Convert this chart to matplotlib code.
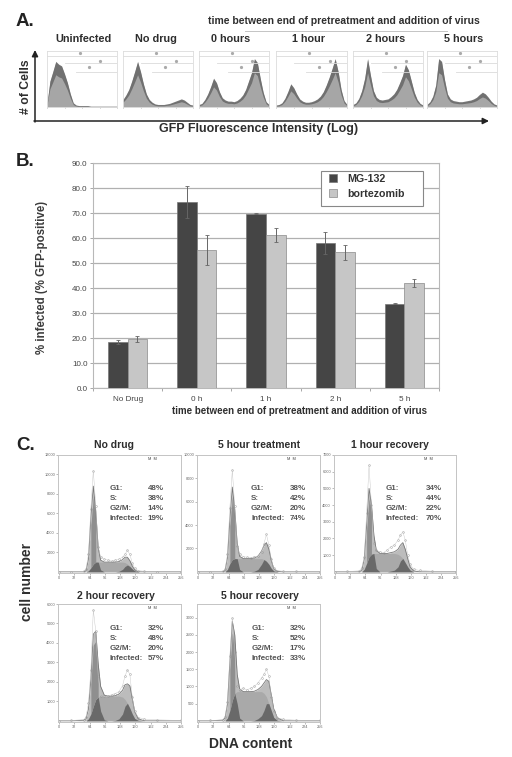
import numpy as np
import matplotlib
matplotlib.use('Agg')
import matplotlib.pyplot as plt
from matplotlib.patches import Rectangle

plt.rcParams['font.family'] = ['Liberation Sans', 'DejaVu Sans']

W, H = 512, 757

# Panel A: flow histograms, % of box height on a regular log grid
flow_names = ['Uninfected', 'No drug', '0 hours', '1 hour', '2 hours', '5 hours']
flow_uninf = [5, 45, 62, 80, 75, 72, 58, 42, 22, 6, 2, 1, 1, 1, 1, 0, 0, 0, 0, 0, 0, 0, 0, 0, 0]
flow_nodrug = [12, 20, 30, 45, 62, 80, 62, 40, 22, 12, 7, 4, 3, 3, 3, 4, 5, 7, 9, 11, 13, 11, 7, 3, 2]
flow_0h = [3, 5, 12, 22, 35, 50, 42, 26, 15, 11, 9, 9, 8, 10, 14, 20, 30, 45, 60, 85, 78, 50, 25, 8, 3]
flow_1h = [2, 3, 6, 14, 26, 40, 33, 22, 13, 9, 7, 7, 8, 10, 13, 18, 26, 38, 52, 68, 85, 62, 30, 10, 3]
flow_2h = [3, 6, 14, 28, 50, 85, 55, 28, 16, 12, 11, 12, 13, 17, 22, 30, 42, 55, 75, 65, 45, 25, 12, 5, 2]
flow_5h = [3, 8, 18, 38, 85, 80, 48, 22, 13, 10, 9, 8, 8, 9, 10, 11, 13, 16, 21, 25, 22, 16, 9, 4, 2]
flow_all = [flow_uninf, flow_nodrug, flow_0h, flow_1h, flow_2h, flow_5h]
flow_boxes = [(47, 117), (123, 193), (199, 269), (276, 347), (353, 423), (427, 497)]

# Panel B: bars
bar_labels = ['No Drug', '0 h', '1 h', '2 h', '5 h']
mg132 = [18.5, 74.5, 69.7, 58.0, 33.7]
mg132_err = [0.7, 6.5, 0.2, 4.5, 0.2]
bortezomib = [19.7, 55.3, 61.3, 54.3, 42.0]
bortezomib_err = [1.2, 6.0, 2.7, 3.0, 1.5]

# Panel C: cell cycle fits, x as fraction of the axis
dna_x = [0, .1, .2, .22, .24, .26, .28, .30, .32, .34, .37, .40, .43, .46, .49, .52, .54, .56, .58, .60, .62, .65, .7, .8, 1]

c1_g1 = [0, 0, 0, 100, 1200, 5200, 8000, 5200, 1500, 200, 0, 0, 0, 0, 0, 0, 0, 0, 0, 0, 0, 0, 0, 0, 0]
c1_s = [0, 0, 0, 0, 100, 400, 800, 1000, 1000, 1000, 1000, 1000, 1000, 1000, 1000, 1000, 950, 800, 600, 300, 100, 0, 0, 0, 0]
c1_g2 = [0, 0, 0, 0, 0, 0, 0, 0, 0, 0, 0, 0, 0, 0, 50, 250, 550, 700, 550, 300, 100, 0, 0, 0, 0]
c1_obs = [0, 20, 60, 300, 1800, 6500, 10400, 6800, 2600, 1500, 1300, 1200, 1100, 1200, 1300, 1500, 1800, 2200, 1800, 900, 350, 120, 60, 30, 10]

c2_g1 = [0, 0, 0, 100, 1000, 3800, 6200, 4200, 1300, 200, 0, 0, 0, 0, 0, 0, 0, 0, 0, 0, 0, 0, 0, 0, 0]
c2_s = [0, 0, 0, 0, 200, 700, 1050, 1130, 1130, 1130, 1130, 1130, 1130, 1130, 1130, 1130, 1050, 900, 650, 300, 80, 0, 0, 0, 0]
c2_g2 = [0, 0, 0, 0, 0, 0, 0, 0, 0, 0, 0, 0, 0, 50, 200, 650, 1200, 1600, 1300, 700, 200, 30, 0, 0, 0]
c2_obs = [0, 20, 60, 200, 1500, 5500, 8700, 5600, 2200, 1500, 1300, 1250, 1200, 1300, 1350, 1700, 2400, 3200, 2300, 1100, 300, 100, 50, 30, 10]

c3_g1 = [0, 0, 0, 100, 600, 2300, 4100, 3000, 1100, 200, 0, 0, 0, 0, 0, 0, 0, 0, 0, 0, 0, 0, 0, 0, 0]
c3_s = [0, 0, 0, 0, 150, 500, 900, 1050, 1100, 1100, 1100, 1100, 1100, 1100, 1100, 1050, 950, 800, 550, 300, 100, 0, 0, 0, 0]
c3_g2 = [0, 0, 0, 0, 0, 0, 0, 0, 0, 0, 0, 0, 0, 50, 100, 300, 650, 950, 800, 500, 200, 50, 0, 0, 0]
c3_obs = [0, 20, 60, 250, 900, 3500, 6400, 4000, 1700, 1300, 1200, 1150, 1300, 1500, 1600, 1900, 2200, 2400, 1900, 1000, 450, 150, 80, 40, 10]

c4_g1 = [0, 0, 30, 100, 500, 1800, 3700, 3500, 1700, 500, 50, 0, 0, 0, 0, 0, 0, 0, 0, 0, 0, 0, 0, 0, 0]
c4_s = [0, 0, 0, 0, 100, 350, 750, 1100, 1220, 1270, 1270, 1270, 1270, 1270, 1270, 1220, 1100, 900, 650, 350, 120, 20, 0, 0, 0]
c4_g2 = [0, 0, 0, 0, 0, 0, 0, 0, 0, 0, 0, 0, 0, 20, 100, 350, 750, 1000, 1150, 800, 350, 80, 0, 0, 0]
c4_obs = [0, 20, 60, 200, 900, 2600, 5700, 4600, 2300, 1300, 1250, 1250, 1350, 1400, 1500, 1800, 2300, 2600, 2400, 1200, 500, 170, 90, 50, 20]

c5_g1 = [0, 0, 20, 80, 400, 1400, 2300, 1700, 500, 80, 0, 0, 0, 0, 0, 0, 0, 0, 0, 0, 0, 0, 0, 0, 0]
c5_s = [0, 0, 0, 0, 80, 300, 600, 800, 850, 850, 850, 850, 850, 850, 850, 850, 800, 700, 500, 300, 100, 10, 0, 0, 0]
c5_g2 = [0, 0, 0, 0, 0, 0, 0, 0, 0, 0, 0, 0, 0, 10, 60, 150, 300, 500, 650, 450, 250, 80, 0, 0, 0]
c5_obs = [0, 10, 30, 120, 550, 1900, 3000, 2000, 1000, 900, 950, 900, 950, 1000, 1100, 1250, 1350, 1500, 1300, 700, 300, 90, 40, 20, 10]

cycle_titles = ['No drug', '5 hour treatment', '1 hour recovery', '2 hour recovery', '5 hour recovery']
cycle_g1 = [c1_g1, c2_g1, c3_g1, c4_g1, c5_g1]
cycle_s = [c1_s, c2_s, c3_s, c4_s, c5_s]
cycle_g2 = [c1_g2, c2_g2, c3_g2, c4_g2, c5_g2]
cycle_obs = [c1_obs, c2_obs, c3_obs, c4_obs, c5_obs]
cycle_ymax = [12000, 10000, 7000, 6000, 3400]
cycle_ticks = [[2000, 4000, 6000, 8000, 10000, 12000], [2000, 4000, 6000, 8000, 10000],
               [1000, 2000, 3000, 4000, 5000, 6000, 7000], [1000, 2000, 3000, 4000, 5000, 6000],
               [500, 1000, 1500, 2000, 2500, 3000]]
stat_names = ['G1:', 'S:', 'G2/M:', 'Infected:']
stat_values = [['48%', '38%', '14%', '19%'], ['38%', '42%', '20%', '74%'], ['34%', '44%', '22%', '70%'],
               ['32%', '48%', '20%', '57%'], ['32%', '52%', '17%', '33%']]
cycle_boxes = [(58, 455, 181, 573), (197, 455, 320, 573), (334, 455, 456, 573),
               (58, 604, 181, 722), (197, 604, 320, 722)]
stat_pos = [(110, 164, 489), (251, 306, 489), (386, 442, 489), (110, 164, 629), (252, 306, 629)]
title_pos = [(114, 445), (259, 445), (390, 445), (116, 596), (260, 596)]


def px_axes(x0, y0, x1, y1):
    return fig.add_axes([x0 / W, 1 - y1 / H, (x1 - x0) / W, (y1 - y0) / H])


fig = plt.figure(figsize=(W / 100, H / 100), dpi=100)

# overlay in pixel coordinates for labels and arrows
over = fig.add_axes([0, 0, 1, 1], zorder=5)
over.set_xlim(0, W)
over.set_ylim(H, 0)
over.axis('off')
over.patch.set_alpha(0)

TXT = '#2e2e2e'
for lab, y in [('A.', 22), ('B.', 161), ('C.', 446)]:
    over.text(16, y, lab, fontsize=13.5, fontweight='bold', color='#222222', va='center')

# Panel A
over.text(344, 21, 'time between end of pretreatment and addition of virus', fontsize=7.5,
          fontweight='bold', color=TXT, ha='center', va='center')
over.plot([245, 447], [30.5, 30.5], color='#c4c4c4', lw=0.7)
title_x = [84, 156, 231, 308, 386, 464]
for name, tx in zip(flow_names, title_x):
    over.text(tx, 39, name, fontsize=7.8, fontweight='bold', color=TXT, ha='center', va='center')
flow_x = np.linspace(0, 1, 25)
for vals, (x0, x1) in zip(flow_all, flow_boxes):
    ax = px_axes(x0, 51, x1, 107)
    vals = np.array(vals)
    ax.fill_between(flow_x, 0, vals, color='#a6a6a6', lw=0)
    ax.fill_between(flow_x, 0.72 * vals, vals + 1.5, color='#6a6a6a', lw=0, alpha=0.9)
    for yy, xs in [(91, 0), (78, .25), (63, .42)]:
        ax.plot([xs, 1], [yy, yy], color='#dadada', lw=0.6)
    ax.plot([.47, .76, .6], [97, 82, 71], ls='', marker='o', ms=1.3, color='#aaaaaa')
    ax.set_xlim(0, 1)
    ax.set_ylim(0, 100)
    ax.set_xticks([0, .25, .5, .75, 1])
    ax.set_xticklabels([])
    ax.set_yticks([])
    ax.tick_params(length=1, width=0.5, color='#999999')
    for s in ax.spines.values():
        s.set_color('#dcdcdc')
        s.set_linewidth(0.6)
over.annotate('', xy=(35, 50), xytext=(35, 122), arrowprops=dict(arrowstyle='-|>', color='#222222', lw=1.1, mutation_scale=9, shrinkA=0, shrinkB=0))
over.annotate('', xy=(489, 121), xytext=(34, 121), arrowprops=dict(arrowstyle='-|>', color='#222222', lw=1.1, mutation_scale=9, shrinkA=0, shrinkB=0))
over.text(26, 87, '# of Cells', fontsize=8.8, fontweight='bold', color=TXT, rotation=90, ha='center', va='center')
over.text(259, 129, 'GFP Fluorescence Intensity (Log)', fontsize=9, fontweight='bold', color=TXT, ha='center', va='center')

# Panel B
ax = px_axes(93, 163, 439, 388)
pos = np.arange(len(bar_labels))
bw = 0.283
err_style = dict(ecolor='#666666', elinewidth=0.7, capsize=1.2, capthick=0.6)
b1 = ax.bar(pos - bw / 2, mg132, bw, yerr=mg132_err, color='#454545', edgecolor='#777777', lw=0.5, error_kw=err_style, label='MG-132', zorder=3)
b2 = ax.bar(pos + bw / 2, bortezomib, bw, yerr=bortezomib_err, color='#c6c6c6', edgecolor='#8a8a8a', lw=0.5, error_kw=err_style, label='bortezomib', zorder=3)
ax.set_xlim(-0.5, 4.5)
ax.set_ylim(0, 90)
ax.set_yticks(np.arange(0, 91, 10))
ax.set_yticklabels(['%.1f' % v for v in np.arange(0, 91, 10)], fontsize=5.8, color='#444444')
ax.set_xticks(np.arange(-0.5, 5, 1))
ax.set_xticklabels([])
ax.tick_params(axis='y', length=2, width=0.6, color='#999999', pad=2)
ax.tick_params(axis='x', length=2, width=0.6, color='#999999')
ax.grid(axis='y', color='#b0b0b0', lw=0.9, zorder=0)
ax.set_axisbelow(True)
for s in ax.spines.values():
    s.set_color('#b8b8b8')
    s.set_linewidth(0.8)
for p, lab in zip(pos, bar_labels):
    ax.annotate(lab, (p, 0), xytext=(0, -8.6), xycoords='data', textcoords='offset points', annotation_clip=False,
                fontsize=5.9, color='#444444', ha='center', va='center')
over.add_patch(Rectangle((321, 171), 102, 35, facecolor='white', edgecolor='#888888', lw=0.8, zorder=2))
leg = over.legend(handles=[b1, b2], loc='upper left', bbox_to_anchor=(329 / W, 1 - 173.5 / H), frameon=False,
                  prop={'size': 7.7, 'weight': 'bold'}, handlelength=0.75, handleheight=0.8,
                  handletextpad=1.0, labelspacing=0.5, borderpad=0, borderaxespad=0, labelcolor='#333333')
leg.set_zorder(3)
over.text(299, 411, 'time between end of pretreatment and addition of virus', fontsize=7.0, fontweight='bold',
          color=TXT, ha='center', va='center')
over.text(42, 277, '% infected (% GFP-positive)', fontsize=8.3, fontweight='bold', color='#3c3c3c', rotation=90,
          ha='center', va='center')

# Panel C
dna = np.array(dna_x)
tick_pos = np.linspace(0, 1, 9)
tick_txt = ['0', '32', '64', '96', '128', '160', '192', '224', '256']
for i, box in enumerate(cycle_boxes):
    ax = px_axes(*box)
    g1 = np.array(cycle_g1[i])
    s_ = np.array(cycle_s[i])
    g2 = np.array(cycle_g2[i])
    ax.fill_between(dna, 0, g1 + s_ + g2, color='#bcbcbc', lw=0)
    ax.plot(dna, g1 + s_ + g2, color='#777777', lw=0.6)
    ax.fill_between(dna, 0, s_, color='#a9a9a9', lw=0)
    ax.fill_between(dna, 0, np.minimum(s_, g1), color='#696969', lw=0)
    ax.fill_between(dna, 0, np.minimum(s_, g2), color='#696969', lw=0)
    ax.fill_between(dna, s_, s_ + 0.85 * g1, where=g1 > 0.3 * max(g1), color='#8f8f8f', lw=0)
    ax.plot(dna, cycle_obs[i], ls='', marker='o', ms=1.3, mfc='none', mew=0.3, color='#8f8f8f')
    ax.plot(dna, cycle_obs[i], color='#c4c4c4', lw=0.3)
    ax.set_xlim(-0.01, 1)
    ax.set_ylim(-0.01 * cycle_ymax[i], cycle_ymax[i])
    ax.set_xticks(tick_pos)
    ax.set_xticklabels(tick_txt, fontsize=2.8, color='#666666')
    ax.set_yticks(cycle_ticks[i])
    ax.set_yticklabels(cycle_ticks[i], fontsize=2.8, color='#666666')
    ax.tick_params(length=1.2, width=0.4, color='#888888', pad=1)
    for sp in ax.spines.values():
        sp.set_color('#c4c4c4')
        sp.set_linewidth(0.7)
    ax.text(0.77, 0.97, 'M  M', transform=ax.transAxes, fontsize=2.8, color='#444444', ha='center', va='center')
    xl, xr, yy = stat_pos[i]
    for j, (nm, val) in enumerate(zip(stat_names, stat_values[i])):
        over.text(xl, yy + j * 9.9, nm, fontsize=5.8, fontweight='bold', color='#555555', va='center')
        over.text(xr, yy + j * 9.9, val, fontsize=5.8, fontweight='bold', color='#555555', va='center', ha='right')
    over.text(title_pos[i][0], title_pos[i][1], cycle_titles[i], fontsize=7.5, fontweight='bold', color=TXT, ha='center', va='center')
over.text(27, 582, 'cell number', fontsize=10, fontweight='bold', color=TXT, rotation=90, ha='center', va='center')
over.text(251, 744, 'DNA content', fontsize=10, fontweight='bold', color=TXT, ha='center', va='center')

fig.savefig('out.png', dpi=100)
